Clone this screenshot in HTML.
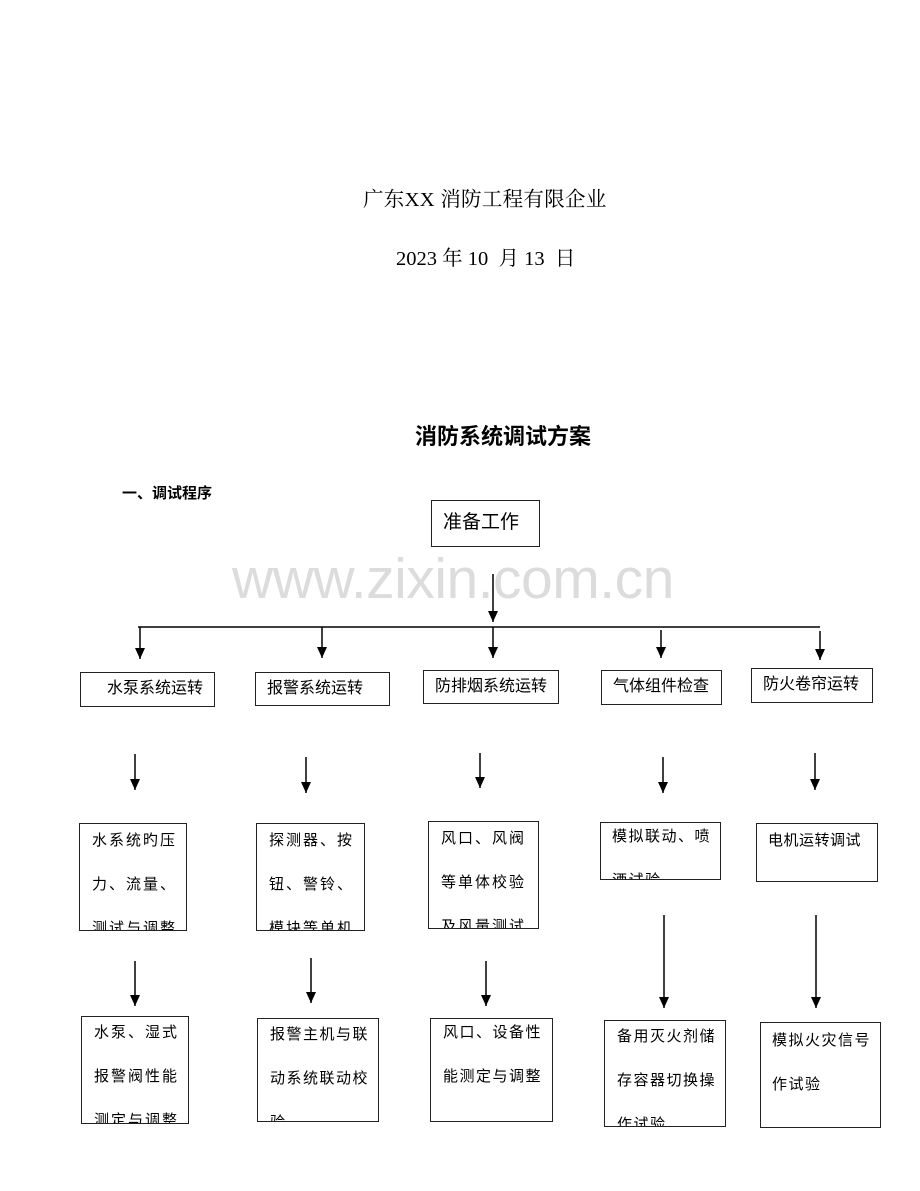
<!DOCTYPE html>
<html><head><meta charset="utf-8"><style>
body{margin:0;background:#fff;width:920px;height:1191px;position:relative;overflow:hidden;font-family:"Liberation Serif","Noto Serif CJK SC","Noto Sans CJK SC",serif;color:#000}
.t{position:absolute;white-space:nowrap}
.b{position:absolute;border:1.5px solid #222;box-sizing:border-box;overflow:hidden;background:transparent;font-family:"Liberation Sans","Noto Sans CJK SC",sans-serif;font-size:15px}
.b .i{line-height:44px;letter-spacing:2px;white-space:nowrap}
.r1{font-size:16px;line-height:32px;white-space:nowrap}
svg{position:absolute;left:0;top:0}
</style></head><body>
<div class="t" style="left:363px;top:182px;font-size:20.5px;letter-spacing:0.3px">广东XX 消防工程有限企业</div>
<div class="t" style="left:396px;top:241px;font-size:20.5px">2023 年 10&nbsp; 月 13&nbsp; 日</div>
<div class="t" style="left:415px;top:419px;font-size:22px;font-weight:bold;font-family:'Liberation Sans','Noto Sans CJK SC',sans-serif">消防系统调试方案</div>
<div class="t" style="left:122px;top:482px;font-size:15px;font-weight:bold;font-family:'Liberation Sans','Noto Sans CJK SC',sans-serif">一、调试程序</div>
<div class="t" style="left:232px;top:546px;font-size:57px;color:#dcdcdc;font-family:'Liberation Sans',sans-serif;letter-spacing:-0.5px">www.zixin.com.cn</div>

<div class="b" style="left:431px;top:500px;width:109px;height:47px;font-size:19px;padding:6px 0 0 11px">准备工作</div>

<div class="b" style="left:80px;top:672px;width:135px;height:35px"><div class="r1" style="padding-left:26px">水泵系统运转</div></div>
<div class="b" style="left:255px;top:672px;width:135px;height:34px"><div class="r1" style="padding-left:11px">报警系统运转</div></div>
<div class="b" style="left:423px;top:670px;width:136px;height:34px"><div class="r1" style="padding-left:11px">防排烟系统运转</div></div>
<div class="b" style="left:601px;top:670px;width:121px;height:35px"><div class="r1" style="padding-left:11px">气体组件检查</div></div>
<div class="b" style="left:751px;top:668px;width:122px;height:35px"><div class="r1" style="padding-left:11px">防火卷帘运转</div></div>

<div class="b" style="left:79px;top:823px;width:108px;height:108px;padding-left:12px"><div class="i" style="margin-top:-5px">水系统旳压<br>力、流量、<br>测试与调整</div></div>
<div class="b" style="left:256px;top:823px;width:109px;height:108px;padding-left:12px"><div class="i" style="margin-top:-5px">探测器、按<br>钮、警铃、<br>模块等单机</div></div>
<div class="b" style="left:428px;top:821px;width:111px;height:108px;padding-left:12px"><div class="i" style="margin-top:-5px">风口、风阀<br>等单体校验<br>及风量测试</div></div>
<div class="b" style="left:600px;top:822px;width:121px;height:58px;padding-left:11px"><div class="i" style="margin-top:-8px;letter-spacing:1.5px">模拟联动、喷<br>洒试验</div></div>
<div class="b" style="left:756px;top:823px;width:122px;height:59px;padding-left:11px"><div class="i" style="margin-top:-5px;letter-spacing:0.5px">电机运转调试</div></div>

<div class="b" style="left:81px;top:1016px;width:108px;height:108px;padding-left:12px"><div class="i" style="margin-top:-6px">水泵、湿式<br>报警阀性能<br>测定与调整</div></div>
<div class="b" style="left:257px;top:1018px;width:122px;height:104px;padding-left:12px"><div class="i" style="margin-top:-6px;letter-spacing:1.5px">报警主机与联<br>动系统联动校<br>验</div></div>
<div class="b" style="left:430px;top:1018px;width:123px;height:104px;padding-left:12px"><div class="i" style="margin-top:-8px;letter-spacing:1.5px">风口、设备性<br>能测定与调整</div></div>
<div class="b" style="left:604px;top:1020px;width:122px;height:107px;padding-left:12px"><div class="i" style="margin-top:-6px;letter-spacing:1.5px">备用灭火剂储<br>存容器切换操<br>作试验</div></div>
<div class="b" style="left:760px;top:1022px;width:121px;height:106px;padding-left:11px"><div class="i" style="margin-top:-4px;letter-spacing:1.5px">模拟火灾信号<br>作试验</div></div>

<svg width="920" height="1191">
<defs><marker id="a" markerWidth="12" markerHeight="10" refX="11" refY="5" orient="auto" markerUnits="userSpaceOnUse"><path d="M0,0 L11,5 L0,10 Z" fill="#000"/></marker></defs>
<g stroke="#000" stroke-width="1.5" fill="none">
<line x1="493" y1="574" x2="493" y2="622" marker-end="url(#a)"/>
<line x1="138" y1="627" x2="820" y2="627"/>
<line x1="140" y1="627" x2="140" y2="659" marker-end="url(#a)"/>
<line x1="322" y1="627" x2="322" y2="658" marker-end="url(#a)"/>
<line x1="493" y1="627" x2="493" y2="658" marker-end="url(#a)"/>
<line x1="661" y1="630" x2="661" y2="658" marker-end="url(#a)"/>
<line x1="820" y1="631" x2="820" y2="660" marker-end="url(#a)"/>
<line x1="135" y1="754" x2="135" y2="790" marker-end="url(#a)"/>
<line x1="306" y1="757" x2="306" y2="793" marker-end="url(#a)"/>
<line x1="480" y1="753" x2="480" y2="788" marker-end="url(#a)"/>
<line x1="663" y1="757" x2="663" y2="793" marker-end="url(#a)"/>
<line x1="815" y1="753" x2="815" y2="790" marker-end="url(#a)"/>
<line x1="135" y1="961" x2="135" y2="1006" marker-end="url(#a)"/>
<line x1="311" y1="958" x2="311" y2="1003" marker-end="url(#a)"/>
<line x1="486" y1="961" x2="486" y2="1006" marker-end="url(#a)"/>
<line x1="664" y1="915" x2="664" y2="1008" marker-end="url(#a)"/>
<line x1="816" y1="915" x2="816" y2="1008" marker-end="url(#a)"/>
</g></svg>
</body></html>
